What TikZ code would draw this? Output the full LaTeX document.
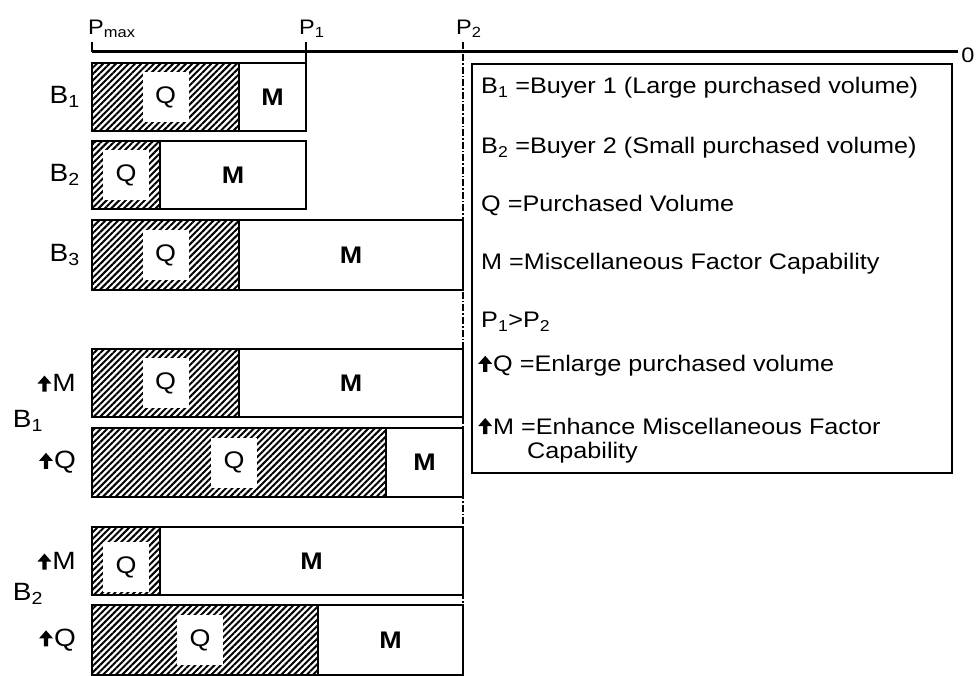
\documentclass[tikz,border=0pt]{standalone}
\usepackage{fontspec}
\setmainfont[FakeStretch=1.12]{Liberation Sans}
\usetikzlibrary{patterns.meta,positioning}

% small filled up arrow used in the row labels and the key
\newcommand\uparr{\tikz[baseline=0pt,x=1pt,y=1pt]\fill (-2.2,0)--(-2.2,8)--(-7,8)--(0,16)--(7,8)--(2.2,8)--(2.2,0)--cycle;\kern1pt}

\begin{document}
\begin{tikzpicture}[x=1pt,y=-1pt,
  font=\fontsize{24}{28}\selectfont,
  q/.style={draw,line width=1.3pt,anchor=north west,inner sep=0,outer sep=0,minimum height=68pt,
    pattern={Lines[angle=45,distance=4.5pt,line width=2pt]}},
  m/.style={draw,line width=1.3pt,anchor=north west,inner sep=0,outer sep=0,minimum height=68pt,
    font=\fontsize{24}{28}\selectfont\bfseries},
  qt/.style={fill=white,inner sep=0,minimum width=46pt,minimum height=50pt},
  lb/.style={font=\fontsize{25}{29}\selectfont,inner sep=0},
  ax/.style={font=\fontsize{21}{24}\selectfont,anchor=south west,inner sep=0},
  key/.style={anchor=west,inner sep=0,font=\fontsize{22.5}{26}\selectfont}]
\useasboundingbox (0,0) rectangle (977,676);

% price axis
\coordinate (ax0) at (92,52);
\coordinate (axe) at (958,52);
\coordinate (t0) at (92,42);
\coordinate (t1) at (306,42);
\coordinate (t2) at (463,42);
\draw[line width=3pt] (ax0) -- (axe);
\draw[line width=1.3pt] (t0) -- (ax0);
\node[ax] (pmax) at (88,38) {P\textsubscript{max}};
\node[ax] (p1) at (299,38) {P\textsubscript{1}};
\node[ax] (p2) at (456,38) {P\textsubscript{2}};
\node[font=\fontsize{21}{24}\selectfont] (zero) at (968,55) {0};

% first block: B1, B2, B3
\node[q,minimum width=147pt] (q1) at (92,63) {};
\node[m,minimum width=67pt] (m1) at (q1.north east) {M};
\node[qt] (qt1) at (q1.center) {Q};
\node[q,minimum width=68pt] (q2) at (92,141) {};
\node[m,minimum width=146pt] (m2) at (q2.north east) {M};
\node[qt] (qt2) at (q2.center) {Q};
\node[q,minimum width=147pt,minimum height=70pt] (q3) at (92,220) {};
\node[m,minimum width=224pt,minimum height=70pt] (m3) at (q3.north east) {M};
\node[qt] (qt3) at (q3.center) {Q};
\node[lb,left=12pt of q1] (b1) {B\textsubscript{1}};
\node[lb,left=12pt of q2] (b2) {B\textsubscript{2}};
\node[lb,left=12pt of q3] (b3) {B\textsubscript{3}};

% second block: B1 raising M or Q
\node[q,minimum width=147pt] (q4) at (92,349) {};
\node[m,minimum width=224pt] (m4) at (q4.north east) {M};
\node[qt] (qt4) at (q4.center) {Q};
\node[q,minimum width=294pt,minimum height=69pt] (q5) at (92,428) {};
\node[m,minimum width=77pt,minimum height=69pt] (m5) at (q5.north east) {M};
\node[qt] (qt5) at ([xshift=-5pt]q5.center) {Q};
\node[lb,left=16pt of q4] (up4) {\uparr M};
\node[lb,left=16pt of q5] (up5) {\uparr Q};
\node[lb] (g1) at (28,421) {B\textsubscript{1}};

% third block: B2 raising M or Q
\node[q,minimum width=68pt] (q6) at (92,527) {};
\node[m,minimum width=303pt] (m6) at (q6.north east) {M};
\node[qt] (qt6) at ([yshift=-6pt]q6.center) {Q};
\node[q,minimum width=226pt,minimum height=70pt] (q7) at (92,605) {};
\node[m,minimum width=145pt,minimum height=70pt] (m7) at (q7.north east) {M};
\node[qt] (qt7) at ([xshift=-5pt]q7.center) {Q};
\node[lb,left=16pt of q6] (up6) {\uparr M};
\node[lb,left=16pt of q7] (up7) {\uparr Q};
\node[lb] (g2) at (28,594) {B\textsubscript{2}};

% price lines P1 and P2
\draw[line width=1.3pt] (t1) -- (m1.north east);
\draw[line width=1.2pt,dash pattern=on 7pt off 2pt on 1.5pt off 2pt] (t2) -- (m7.south east);

% key
\node[draw,line width=1.3pt,inner sep=0,minimum width=480pt,minimum height=409pt] (keybox) at (712,268.5) {};
\node[key] (k1) at (481,88) {B\textsubscript{1} =Buyer 1 (Large purchased volume)};
\node[key] (k2) at (481,148) {B\textsubscript{2} =Buyer 2 (Small purchased volume)};
\node[key] (k3) at (481,205) {Q =Purchased Volume};
\node[key] (k4) at (481,264) {M =Miscellaneous Factor Capability};
\node[key] (k5) at (481,322) {P\textsubscript{1}>P\textsubscript{2}};
\node[key] (k6) at (478,366) {\uparr Q =Enlarge purchased volume};
\node[key] (k7) at (478,426) {\uparr M =Enhance Miscellaneous Factor};
\node[key] (k8) at (527,453) {Capability};
\end{tikzpicture}
\end{document}
